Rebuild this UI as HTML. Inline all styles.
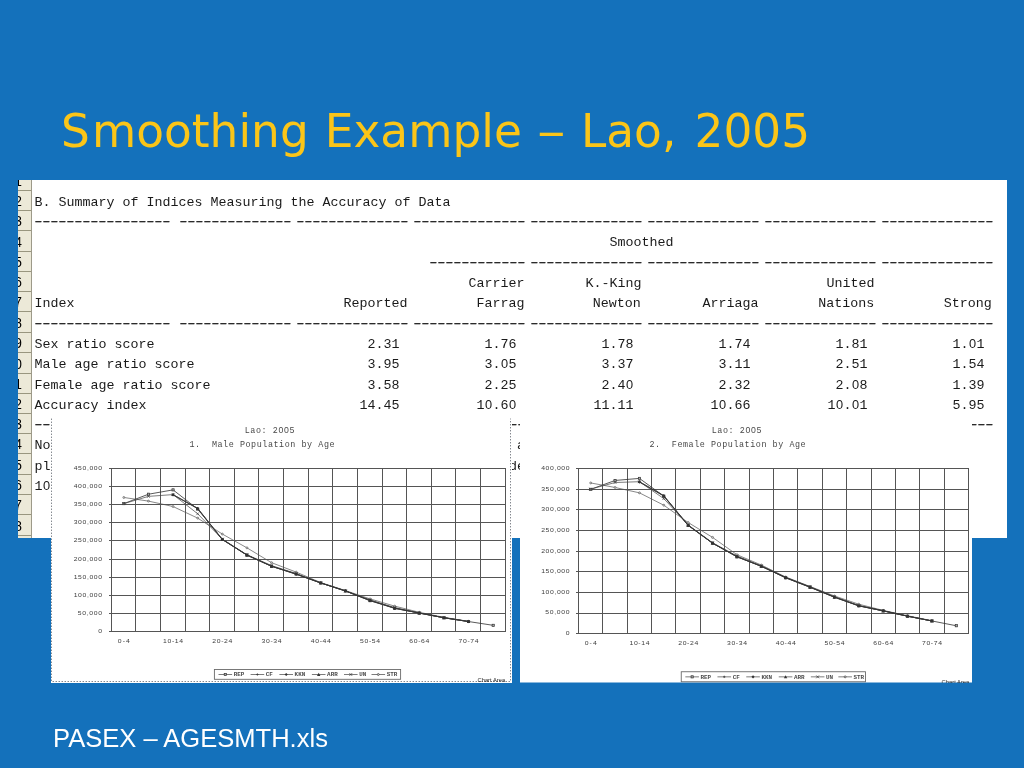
<!DOCTYPE html>
<html lang="en">
<head>
<meta charset="utf-8">
<title>Smoothing Example – Lao, 2005</title>
<style>
html,body{margin:0;padding:0}
body{width:1024px;height:768px;overflow:hidden;background:#1471bb;position:relative;font-family:"Liberation Sans",sans-serif}
#title{position:absolute;left:60.9px;top:104.6px;margin:0;font:normal 45.4px/54px "DejaVu Sans","Liberation Sans",sans-serif;word-spacing:1.53px;letter-spacing:0.04px;color:#fbc518;white-space:nowrap}
#title .w{letter-spacing:2.2px}
#title .e{display:inline-block;margin:0 2.2px 0 2.0px;transform:scaleX(1.26)}
#foot{position:absolute;left:53px;top:722.7px;margin:0;font:normal 25.55px/30px "Liberation Sans",sans-serif;color:#fff;white-space:nowrap;transform:scaleY(1.035);transform-origin:0 24px}
#sheet{position:absolute;left:18px;top:180px;width:989px;height:358px;background:#fff;overflow:hidden}
#hdr{position:absolute;left:0;top:0;width:14px;height:100%;background:#ece9d8;border-right:1px solid #9d9a89;box-sizing:border-box;overflow:hidden}
.hc{position:absolute;left:0;width:14px;border-top:1px solid #99967f;box-sizing:border-box;font:13.33px/16px "Liberation Sans",sans-serif;color:#000}
.hc span{position:absolute;right:10.2px;bottom:0.2px;white-space:nowrap;transform:scaleY(1.15);transform-origin:0 12.7px}
.t{position:absolute;height:20.325px;font:13.33px/20.325px "Liberation Mono",monospace;color:#1a1a1a;white-space:pre;margin-top:2.75px}
.d{letter-spacing:-3px;transform:scaleX(1.6);transform-origin:0 0;margin-left:-3.5px;margin-top:1.8px;-webkit-text-stroke:0.15px #1a1a1a;color:#1a1a1a}
.z{font-family:"Liberation Sans",sans-serif;font-size:12.8px;line-height:0;letter-spacing:0.88px;position:relative;left:0.45px}
.chart{position:absolute;display:block}
.chart text{font-family:"Liberation Mono",monospace}
.chart .ax{font-family:"Liberation Sans",sans-serif;font-size:5.6px;fill:#3c3c3c}
.ti{font-size:8.4px;fill:#484848}
.chart .sz{font-family:"Liberation Sans",sans-serif;font-size:8.7px}
.lg{font-size:5.9px;fill:#4a4a4a;font-weight:bold}
.chart .ca{font-family:"Liberation Sans",sans-serif;font-size:5.8px;fill:#1c1c1c}
</style>
</head>
<body>
<h1 id="title"><span class="w">S</span>moothing Example <span class="e">–</span> Lao<span class="w">,</span> 2005</h1>
<div id="sheet">
<div id="hdr"><div class="hc" style="top:-10px;height:20px"><span>1</span></div><div class="hc" style="top:10px;height:20px"><span>2</span></div><div class="hc" style="top:30px;height:20px"><span>3</span></div><div class="hc" style="top:50px;height:21px"><span>4</span></div><div class="hc" style="top:71px;height:20px"><span>5</span></div><div class="hc" style="top:91px;height:20px"><span>6</span></div><div class="hc" style="top:111px;height:20px"><span>7</span></div><div class="hc" style="top:131px;height:21px"><span>8</span></div><div class="hc" style="top:152px;height:20px"><span>9</span></div><div class="hc" style="top:172px;height:21px"><span>10</span></div><div class="hc" style="top:193px;height:20px"><span>11</span></div><div class="hc" style="top:213px;height:20px"><span>12</span></div><div class="hc" style="top:233px;height:20px"><span>13</span></div><div class="hc" style="top:253px;height:20px"><span>14</span></div><div class="hc" style="top:273px;height:21px"><span>15</span></div><div class="hc" style="top:294px;height:20px"><span>16</span></div><div class="hc" style="top:314px;height:20px"><span>17</span></div><div class="hc" style="top:334px;height:21px"><span>18</span></div><div class="hc" style="top:355px;height:21px"><span>19</span></div></div>
<span class="t " style="left:16.50px;top:10.10px">B. Summary of Indices Measuring the Accuracy of Data</span><span class="t d" style="left:17.00px;top:30.40px">-----------------</span><span class="t d" style="left:162.00px;top:30.40px">--------------</span><span class="t d" style="left:279.00px;top:30.40px">--------------</span><span class="t d" style="left:396.00px;top:30.40px">--------------</span><span class="t d" style="left:513.00px;top:30.40px">--------------</span><span class="t d" style="left:630.00px;top:30.40px">--------------</span><span class="t d" style="left:747.00px;top:30.40px">--------------</span><span class="t d" style="left:864.00px;top:30.40px">--------------</span><span class="t " style="left:591.50px;top:50.70px">Smoothed</span><span class="t d" style="left:412.00px;top:71.00px">------------</span><span class="t d" style="left:513.00px;top:71.00px">--------------</span><span class="t d" style="left:630.00px;top:71.00px">--------------</span><span class="t d" style="left:747.00px;top:71.00px">--------------</span><span class="t d" style="left:864.00px;top:71.00px">--------------</span><span class="t " style="left:450.50px;top:91.30px">Carrier</span><span class="t " style="left:567.50px;top:91.30px">K.-King</span><span class="t " style="left:808.50px;top:91.30px">United</span><span class="t " style="left:16.50px;top:111.60px">Index</span><span class="t " style="left:325.50px;top:111.60px">Reported</span><span class="t " style="left:458.50px;top:111.60px">Farrag</span><span class="t " style="left:574.80px;top:111.60px">Newton</span><span class="t " style="left:684.50px;top:111.60px">Arriaga</span><span class="t " style="left:800.20px;top:111.60px">Nations</span><span class="t " style="left:925.70px;top:111.60px">Strong</span><span class="t d" style="left:17.00px;top:131.90px">-----------------</span><span class="t d" style="left:162.00px;top:131.90px">--------------</span><span class="t d" style="left:279.00px;top:131.90px">--------------</span><span class="t d" style="left:396.00px;top:131.90px">--------------</span><span class="t d" style="left:513.00px;top:131.90px">--------------</span><span class="t d" style="left:630.00px;top:131.90px">--------------</span><span class="t d" style="left:747.00px;top:131.90px">--------------</span><span class="t d" style="left:864.00px;top:131.90px">--------------</span><span class="t " style="left:16.50px;top:152.20px">Sex ratio score</span><span class="t " style="left:349.50px;top:152.20px">2.31</span><span class="t " style="left:466.50px;top:152.20px">1.76</span><span class="t " style="left:583.50px;top:152.20px">1.78</span><span class="t " style="left:700.50px;top:152.20px">1.74</span><span class="t " style="left:817.50px;top:152.20px">1.81</span><span class="t " style="left:934.50px;top:152.20px">1.<span class="z">0</span>1</span><span class="t " style="left:16.50px;top:172.50px">Male age ratio score</span><span class="t " style="left:349.50px;top:172.50px">3.95</span><span class="t " style="left:466.50px;top:172.50px">3.<span class="z">0</span>5</span><span class="t " style="left:583.50px;top:172.50px">3.37</span><span class="t " style="left:700.50px;top:172.50px">3.11</span><span class="t " style="left:817.50px;top:172.50px">2.51</span><span class="t " style="left:934.50px;top:172.50px">1.54</span><span class="t " style="left:16.50px;top:192.80px">Female age ratio score</span><span class="t " style="left:349.50px;top:192.80px">3.58</span><span class="t " style="left:466.50px;top:192.80px">2.25</span><span class="t " style="left:583.50px;top:192.80px">2.4<span class="z">0</span></span><span class="t " style="left:700.50px;top:192.80px">2.32</span><span class="t " style="left:817.50px;top:192.80px">2.<span class="z">0</span>8</span><span class="t " style="left:934.50px;top:192.80px">1.39</span><span class="t " style="left:16.50px;top:213.10px">Accuracy index</span><span class="t " style="left:341.50px;top:213.10px">14.45</span><span class="t " style="left:458.50px;top:213.10px">1<span class="z">0</span>.6<span class="z">0</span></span><span class="t " style="left:575.50px;top:213.10px">11.11</span><span class="t " style="left:692.50px;top:213.10px">1<span class="z">0</span>.66</span><span class="t " style="left:809.50px;top:213.10px">1<span class="z">0</span>.<span class="z">0</span>1</span><span class="t " style="left:934.50px;top:213.10px">5.95</span><span class="t d" style="left:17.00px;top:233.40px">-----------------</span><span class="t d" style="left:162.00px;top:233.40px">--------------</span><span class="t d" style="left:279.00px;top:233.40px">--------------</span><span class="t d" style="left:396.00px;top:233.40px">--------------</span><span class="t d" style="left:513.00px;top:233.40px">--------------</span><span class="t d" style="left:630.00px;top:233.40px">--------------</span><span class="t d" style="left:747.00px;top:233.40px">--------------</span><span class="t d" style="left:864.00px;top:233.40px">--------------</span><span class="t " style="left:16.50px;top:253.70px">No</span><span class="t " style="left:499.00px;top:253.70px">a</span><span class="t " style="left:16.50px;top:274.00px">pl</span><span class="t " style="left:491.00px;top:274.00px">de</span><span class="t " style="left:16.50px;top:294.30px">1<span class="z">0</span></span>
</div>
<svg id="c1" class="chart" style="left:51px;top:418px" width="461" height="265" viewBox="51 418 461 265">
<rect x="51" y="418" width="461" height="265" fill="#fff"/>
<path d="M51.5 418.6V681.5H510.5V418.6" fill="none" stroke="#666c74" stroke-width="0.9" stroke-dasharray="1.3 1.7"/>
<path d="M111.5 468.0V632.0M135.5 468.0V632.0M160.5 468.0V632.0M185.5 468.0V632.0M209.5 468.0V632.0M234.5 468.0V632.0M258.5 468.0V632.0M283.5 468.0V632.0M308.5 468.0V632.0M332.5 468.0V632.0M357.5 468.0V632.0M382.5 468.0V632.0M406.5 468.0V632.0M431.5 468.0V632.0M455.5 468.0V632.0M480.5 468.0V632.0M505.5 468.0V632.0M109.0 468.5H506.0M109.0 486.5H506.0M109.0 504.5H506.0M109.0 522.5H506.0M109.0 540.5H506.0M109.0 559.5H506.0M109.0 577.5H506.0M109.0 595.5H506.0M109.0 613.5H506.0M109.0 631.5H506.0" fill="none" stroke="#555" stroke-width="1" shape-rendering="crispEdges"/>
<text class="ax" transform="translate(102 470.00) scale(1.22 1)" text-anchor="end" textLength="23.24" lengthAdjust="spacing">450,000</text>
<text class="ax" transform="translate(102 488.11) scale(1.22 1)" text-anchor="end" textLength="23.24" lengthAdjust="spacing">400,000</text>
<text class="ax" transform="translate(102 506.22) scale(1.22 1)" text-anchor="end" textLength="23.24" lengthAdjust="spacing">350,000</text>
<text class="ax" transform="translate(102 524.33) scale(1.22 1)" text-anchor="end" textLength="23.24" lengthAdjust="spacing">300,000</text>
<text class="ax" transform="translate(102 542.44) scale(1.22 1)" text-anchor="end" textLength="23.24" lengthAdjust="spacing">250,000</text>
<text class="ax" transform="translate(102 560.56) scale(1.22 1)" text-anchor="end" textLength="23.24" lengthAdjust="spacing">200,000</text>
<text class="ax" transform="translate(102 578.67) scale(1.22 1)" text-anchor="end" textLength="23.24" lengthAdjust="spacing">150,000</text>
<text class="ax" transform="translate(102 596.78) scale(1.22 1)" text-anchor="end" textLength="23.24" lengthAdjust="spacing">100,000</text>
<text class="ax" transform="translate(102 614.89) scale(1.22 1)" text-anchor="end" textLength="19.92" lengthAdjust="spacing">50,000</text>
<text class="ax" transform="translate(102 633.00) scale(1.22 1)" text-anchor="end" textLength="3.32" lengthAdjust="spacing">0</text>
<text class="ax" transform="translate(123.81 643) scale(1.22 1)" text-anchor="middle" textLength="9.84" lengthAdjust="spacing">0-4</text>
<text class="ax" transform="translate(173.06 643) scale(1.22 1)" text-anchor="middle" textLength="16.39" lengthAdjust="spacing">10-14</text>
<text class="ax" transform="translate(222.31 643) scale(1.22 1)" text-anchor="middle" textLength="16.39" lengthAdjust="spacing">20-24</text>
<text class="ax" transform="translate(271.56 643) scale(1.22 1)" text-anchor="middle" textLength="16.39" lengthAdjust="spacing">30-34</text>
<text class="ax" transform="translate(320.81 643) scale(1.22 1)" text-anchor="middle" textLength="16.39" lengthAdjust="spacing">40-44</text>
<text class="ax" transform="translate(370.06 643) scale(1.22 1)" text-anchor="middle" textLength="16.39" lengthAdjust="spacing">50-54</text>
<text class="ax" transform="translate(419.31 643) scale(1.22 1)" text-anchor="middle" textLength="16.39" lengthAdjust="spacing">60-64</text>
<text class="ax" transform="translate(468.56 643) scale(1.22 1)" text-anchor="middle" textLength="16.39" lengthAdjust="spacing">70-74</text>
<text class="ti" x="244.68 250.28 255.88 261.48 267.08 272.68 278.38 283.98 289.48" y="433.10" xml:space="preserve">Lao: 2<tspan class="sz">00</tspan>5</text>
<text class="ti" x="189.48 195.08 200.68 206.28 211.88 217.48 223.08 228.68 234.28 239.88 245.48 251.08 256.68 262.28 267.88 273.48 279.08 284.68 290.28 295.88 301.48 307.08 312.68 318.28 323.88 329.48" y="447.20" xml:space="preserve">1.  Male Population by Age</text>
<path d="M123.81 503.64L148.44 494.22L173.06 489.87L197.69 509.07L222.31 539.50L246.94 555.07L271.56 566.30L296.19 573.91L320.81 582.96L345.44 590.93L370.06 600.71L394.69 607.96L419.31 613.03L443.94 617.74L468.56 621.54L493.19 625.34" fill="none" stroke="#303030" stroke-width="0.8" stroke-linejoin="round"/>
<rect x="122.71" y="502.54" width="2.2" height="2.2" fill="#aaa" stroke="#303030" stroke-width="0.7"/>
<rect x="147.34" y="493.12" width="2.2" height="2.2" fill="#aaa" stroke="#303030" stroke-width="0.7"/>
<rect x="171.96" y="488.77" width="2.2" height="2.2" fill="#aaa" stroke="#303030" stroke-width="0.7"/>
<rect x="196.59" y="507.97" width="2.2" height="2.2" fill="#aaa" stroke="#303030" stroke-width="0.7"/>
<rect x="221.21" y="538.40" width="2.2" height="2.2" fill="#aaa" stroke="#303030" stroke-width="0.7"/>
<rect x="245.84" y="553.97" width="2.2" height="2.2" fill="#aaa" stroke="#303030" stroke-width="0.7"/>
<rect x="270.46" y="565.20" width="2.2" height="2.2" fill="#aaa" stroke="#303030" stroke-width="0.7"/>
<rect x="295.09" y="572.81" width="2.2" height="2.2" fill="#aaa" stroke="#303030" stroke-width="0.7"/>
<rect x="319.71" y="581.86" width="2.2" height="2.2" fill="#aaa" stroke="#303030" stroke-width="0.7"/>
<rect x="344.34" y="589.83" width="2.2" height="2.2" fill="#aaa" stroke="#303030" stroke-width="0.7"/>
<rect x="368.96" y="599.61" width="2.2" height="2.2" fill="#aaa" stroke="#303030" stroke-width="0.7"/>
<rect x="393.59" y="606.86" width="2.2" height="2.2" fill="#aaa" stroke="#303030" stroke-width="0.7"/>
<rect x="418.21" y="611.93" width="2.2" height="2.2" fill="#aaa" stroke="#303030" stroke-width="0.7"/>
<rect x="442.84" y="616.64" width="2.2" height="2.2" fill="#aaa" stroke="#303030" stroke-width="0.7"/>
<rect x="467.46" y="620.44" width="2.2" height="2.2" fill="#aaa" stroke="#303030" stroke-width="0.7"/>
<rect x="492.09" y="624.24" width="2.2" height="2.2" fill="#aaa" stroke="#303030" stroke-width="0.7"/>
<path d="M123.81 497.48L148.44 501.10L173.06 506.53L197.69 518.12L222.31 534.06L246.94 547.83L271.56 562.68L296.19 572.10L320.81 582.60L345.44 590.57L370.06 598.90L394.69 606.14L419.31 612.30L443.94 617.37L468.56 621.36" fill="none" stroke="#555" stroke-width="0.7" stroke-linejoin="round"/>
<circle cx="123.81" cy="497.48" r="1.0" fill="#ccc" stroke="#555" stroke-width="0.6"/>
<circle cx="148.44" cy="501.10" r="1.0" fill="#ccc" stroke="#555" stroke-width="0.6"/>
<circle cx="173.06" cy="506.53" r="1.0" fill="#ccc" stroke="#555" stroke-width="0.6"/>
<circle cx="197.69" cy="518.12" r="1.0" fill="#ccc" stroke="#555" stroke-width="0.6"/>
<circle cx="222.31" cy="534.06" r="1.0" fill="#ccc" stroke="#555" stroke-width="0.6"/>
<circle cx="246.94" cy="547.83" r="1.0" fill="#ccc" stroke="#555" stroke-width="0.6"/>
<circle cx="271.56" cy="562.68" r="1.0" fill="#ccc" stroke="#555" stroke-width="0.6"/>
<circle cx="296.19" cy="572.10" r="1.0" fill="#ccc" stroke="#555" stroke-width="0.6"/>
<circle cx="320.81" cy="582.60" r="1.0" fill="#ccc" stroke="#555" stroke-width="0.6"/>
<circle cx="345.44" cy="590.57" r="1.0" fill="#ccc" stroke="#555" stroke-width="0.6"/>
<circle cx="370.06" cy="598.90" r="1.0" fill="#ccc" stroke="#555" stroke-width="0.6"/>
<circle cx="394.69" cy="606.14" r="1.0" fill="#ccc" stroke="#555" stroke-width="0.6"/>
<circle cx="419.31" cy="612.30" r="1.0" fill="#ccc" stroke="#555" stroke-width="0.6"/>
<circle cx="443.94" cy="617.37" r="1.0" fill="#ccc" stroke="#555" stroke-width="0.6"/>
<circle cx="468.56" cy="621.36" r="1.0" fill="#ccc" stroke="#555" stroke-width="0.6"/>
<path d="M123.81 503.64L148.44 496.39L173.06 494.58L197.69 513.78L222.31 539.13L246.94 554.71L271.56 565.58L296.19 573.54L320.81 582.96L345.44 590.93L370.06 599.99L394.69 607.59L419.31 613.03L443.94 617.74L468.56 621.54" fill="none" stroke="#444" stroke-width="0.7" stroke-linejoin="round"/>
<path d="M122.41 502.24l2.8 2.8M122.41 505.04l2.8-2.8" stroke="#444" stroke-width="0.7"/>
<path d="M147.04 494.99l2.8 2.8M147.04 497.79l2.8-2.8" stroke="#444" stroke-width="0.7"/>
<path d="M171.66 493.18l2.8 2.8M171.66 495.98l2.8-2.8" stroke="#444" stroke-width="0.7"/>
<path d="M196.29 512.38l2.8 2.8M196.29 515.18l2.8-2.8" stroke="#444" stroke-width="0.7"/>
<path d="M220.91 537.73l2.8 2.8M220.91 540.53l2.8-2.8" stroke="#444" stroke-width="0.7"/>
<path d="M245.54 553.31l2.8 2.8M245.54 556.11l2.8-2.8" stroke="#444" stroke-width="0.7"/>
<path d="M270.16 564.18l2.8 2.8M270.16 566.98l2.8-2.8" stroke="#444" stroke-width="0.7"/>
<path d="M294.79 572.14l2.8 2.8M294.79 574.94l2.8-2.8" stroke="#444" stroke-width="0.7"/>
<path d="M319.41 581.56l2.8 2.8M319.41 584.36l2.8-2.8" stroke="#444" stroke-width="0.7"/>
<path d="M344.04 589.53l2.8 2.8M344.04 592.33l2.8-2.8" stroke="#444" stroke-width="0.7"/>
<path d="M368.66 598.59l2.8 2.8M368.66 601.39l2.8-2.8" stroke="#444" stroke-width="0.7"/>
<path d="M393.29 606.19l2.8 2.8M393.29 608.99l2.8-2.8" stroke="#444" stroke-width="0.7"/>
<path d="M417.91 611.63l2.8 2.8M417.91 614.43l2.8-2.8" stroke="#444" stroke-width="0.7"/>
<path d="M442.54 616.34l2.8 2.8M442.54 619.14l2.8-2.8" stroke="#444" stroke-width="0.7"/>
<path d="M467.16 620.14l2.8 2.8M467.16 622.94l2.8-2.8" stroke="#444" stroke-width="0.7"/>
<path d="M173.06 494.58L197.69 508.34L222.31 539.13L246.94 555.07L271.56 565.94L296.19 574.27L320.81 582.96L345.44 590.93L370.06 599.99L394.69 608.32L419.31 613.03L443.94 617.74L468.56 621.54" fill="none" stroke="#444" stroke-width="0.7" stroke-linejoin="round"/>
<path d="M171.86 494.58h2.4M173.06 493.38v2.4" stroke="#444" stroke-width="0.7"/>
<path d="M196.49 508.34h2.4M197.69 507.14v2.4" stroke="#444" stroke-width="0.7"/>
<path d="M221.11 539.13h2.4M222.31 537.93v2.4" stroke="#444" stroke-width="0.7"/>
<path d="M245.74 555.07h2.4M246.94 553.87v2.4" stroke="#444" stroke-width="0.7"/>
<path d="M270.36 565.94h2.4M271.56 564.74v2.4" stroke="#444" stroke-width="0.7"/>
<path d="M294.99 574.27h2.4M296.19 573.07v2.4" stroke="#444" stroke-width="0.7"/>
<path d="M319.61 582.96h2.4M320.81 581.76v2.4" stroke="#444" stroke-width="0.7"/>
<path d="M344.24 590.93h2.4M345.44 589.73v2.4" stroke="#444" stroke-width="0.7"/>
<path d="M368.86 599.99h2.4M370.06 598.79v2.4" stroke="#444" stroke-width="0.7"/>
<path d="M393.49 608.32h2.4M394.69 607.12v2.4" stroke="#444" stroke-width="0.7"/>
<path d="M418.11 613.03h2.4M419.31 611.83v2.4" stroke="#444" stroke-width="0.7"/>
<path d="M442.74 617.74h2.4M443.94 616.54v2.4" stroke="#444" stroke-width="0.7"/>
<path d="M467.36 621.54h2.4M468.56 620.34v2.4" stroke="#444" stroke-width="0.7"/>
<path d="M173.06 494.94L197.69 508.71L222.31 539.50L246.94 555.07L271.56 566.30L296.19 574.27L320.81 582.96L345.44 590.93L370.06 600.35L394.69 608.32L419.31 613.03L443.94 617.74L468.56 621.54" fill="none" stroke="#333" stroke-width="0.7" stroke-linejoin="round"/>
<path d="M173.06 493.34l1.6 1.6l-1.6 1.6l-1.6-1.6z" fill="#333"/>
<path d="M197.69 507.11l1.6 1.6l-1.6 1.6l-1.6-1.6z" fill="#333"/>
<path d="M222.31 537.90l1.6 1.6l-1.6 1.6l-1.6-1.6z" fill="#333"/>
<path d="M246.94 553.47l1.6 1.6l-1.6 1.6l-1.6-1.6z" fill="#333"/>
<path d="M271.56 564.70l1.6 1.6l-1.6 1.6l-1.6-1.6z" fill="#333"/>
<path d="M296.19 572.67l1.6 1.6l-1.6 1.6l-1.6-1.6z" fill="#333"/>
<path d="M320.81 581.36l1.6 1.6l-1.6 1.6l-1.6-1.6z" fill="#333"/>
<path d="M345.44 589.33l1.6 1.6l-1.6 1.6l-1.6-1.6z" fill="#333"/>
<path d="M370.06 598.75l1.6 1.6l-1.6 1.6l-1.6-1.6z" fill="#333"/>
<path d="M394.69 606.72l1.6 1.6l-1.6 1.6l-1.6-1.6z" fill="#333"/>
<path d="M419.31 611.43l1.6 1.6l-1.6 1.6l-1.6-1.6z" fill="#333"/>
<path d="M443.94 616.14l1.6 1.6l-1.6 1.6l-1.6-1.6z" fill="#333"/>
<path d="M468.56 619.94l1.6 1.6l-1.6 1.6l-1.6-1.6z" fill="#333"/>
<path d="M173.06 494.58L197.69 508.34L222.31 539.50L246.94 555.07L271.56 566.30L296.19 573.91L320.81 582.96L345.44 590.93L370.06 600.71L394.69 608.32L419.31 613.03L443.94 617.74L468.56 621.54" fill="none" stroke="#333" stroke-width="0.7" stroke-linejoin="round"/>
<path d="M173.06 492.88l1.7 3.1h-3.4z" fill="#333"/>
<path d="M197.69 506.64l1.7 3.1h-3.4z" fill="#333"/>
<path d="M222.31 537.80l1.7 3.1h-3.4z" fill="#333"/>
<path d="M246.94 553.37l1.7 3.1h-3.4z" fill="#333"/>
<path d="M271.56 564.60l1.7 3.1h-3.4z" fill="#333"/>
<path d="M296.19 572.21l1.7 3.1h-3.4z" fill="#333"/>
<path d="M320.81 581.26l1.7 3.1h-3.4z" fill="#333"/>
<path d="M345.44 589.23l1.7 3.1h-3.4z" fill="#333"/>
<path d="M370.06 599.01l1.7 3.1h-3.4z" fill="#333"/>
<path d="M394.69 606.62l1.7 3.1h-3.4z" fill="#333"/>
<path d="M419.31 611.33l1.7 3.1h-3.4z" fill="#333"/>
<path d="M443.94 616.04l1.7 3.1h-3.4z" fill="#333"/>
<path d="M468.56 619.84l1.7 3.1h-3.4z" fill="#333"/>
<text class="ca" x="505.2" y="681.5" text-anchor="end">Chart Area</text>
<rect x="214.4" y="669.5" width="186.20000000000002" height="9.799999999999955" fill="#fff" stroke="#6a6a6a" stroke-width="0.9"/>
<path d="M218.50 674.50h13.6" stroke="#444" stroke-width="0.7"/>
<rect x="224.20" y="673.40" width="2.2" height="2.2" fill="#aaa" stroke="#333" stroke-width="0.7"/>
<text class="lg" x="233.70" y="676.40">REP</text>
<path d="M250.60 674.50h13.6" stroke="#444" stroke-width="0.7"/>
<path d="M256.20 674.50h2.4M257.40 673.30v2.4" stroke="#333" stroke-width="0.7"/>
<text class="lg" x="265.80" y="676.40">CF</text>
<path d="M279.40 674.50h13.6" stroke="#444" stroke-width="0.7"/>
<path d="M286.20 672.90l1.6 1.6l-1.6 1.6l-1.6-1.6z" fill="#333"/>
<text class="lg" x="294.60" y="676.40">KKN</text>
<path d="M311.90 674.50h13.6" stroke="#444" stroke-width="0.7"/>
<path d="M318.70 672.80l1.7 3.1h-3.4z" fill="#333"/>
<text class="lg" x="327.10" y="676.40">ARR</text>
<path d="M344.00 674.50h13.6" stroke="#444" stroke-width="0.7"/>
<path d="M349.40 673.10l2.8 2.8M349.40 675.90l2.8-2.8" stroke="#333" stroke-width="0.7"/>
<text class="lg" x="359.20" y="676.40">UN</text>
<path d="M371.50 674.50h13.6" stroke="#444" stroke-width="0.7"/>
<circle cx="378.30" cy="674.50" r="1.0" fill="#ccc" stroke="#333" stroke-width="0.6"/>
<text class="lg" x="386.70" y="676.40">STR</text>
</svg>
<svg id="c2" class="chart" style="left:520px;top:418px" width="452" height="265" viewBox="520 418 452 265">
<rect x="520" y="418" width="452" height="264.5" fill="#fff"/>
<path d="M578.5 468.0V634.0M602.5 468.0V634.0M627.5 468.0V634.0M651.5 468.0V634.0M675.5 468.0V634.0M700.5 468.0V634.0M724.5 468.0V634.0M749.5 468.0V634.0M773.5 468.0V634.0M797.5 468.0V634.0M822.5 468.0V634.0M846.5 468.0V634.0M871.5 468.0V634.0M895.5 468.0V634.0M919.5 468.0V634.0M944.5 468.0V634.0M968.5 468.0V634.0M576.0 468.5H969.0M576.0 489.5H969.0M576.0 509.5H969.0M576.0 530.5H969.0M576.0 551.5H969.0M576.0 571.5H969.0M576.0 592.5H969.0M576.0 613.5H969.0M576.0 633.5H969.0" fill="none" stroke="#555" stroke-width="1" shape-rendering="crispEdges"/>
<text class="ax" transform="translate(569.5 470.00) scale(1.22 1)" text-anchor="end" textLength="23.24" lengthAdjust="spacing">400,000</text>
<text class="ax" transform="translate(569.5 490.62) scale(1.22 1)" text-anchor="end" textLength="23.24" lengthAdjust="spacing">350,000</text>
<text class="ax" transform="translate(569.5 511.25) scale(1.22 1)" text-anchor="end" textLength="23.24" lengthAdjust="spacing">300,000</text>
<text class="ax" transform="translate(569.5 531.88) scale(1.22 1)" text-anchor="end" textLength="23.24" lengthAdjust="spacing">250,000</text>
<text class="ax" transform="translate(569.5 552.50) scale(1.22 1)" text-anchor="end" textLength="23.24" lengthAdjust="spacing">200,000</text>
<text class="ax" transform="translate(569.5 573.12) scale(1.22 1)" text-anchor="end" textLength="23.24" lengthAdjust="spacing">150,000</text>
<text class="ax" transform="translate(569.5 593.75) scale(1.22 1)" text-anchor="end" textLength="23.24" lengthAdjust="spacing">100,000</text>
<text class="ax" transform="translate(569.5 614.38) scale(1.22 1)" text-anchor="end" textLength="19.92" lengthAdjust="spacing">50,000</text>
<text class="ax" transform="translate(569.5 635.00) scale(1.22 1)" text-anchor="end" textLength="3.32" lengthAdjust="spacing">0</text>
<text class="ax" transform="translate(590.69 645) scale(1.22 1)" text-anchor="middle" textLength="9.84" lengthAdjust="spacing">0-4</text>
<text class="ax" transform="translate(639.44 645) scale(1.22 1)" text-anchor="middle" textLength="16.39" lengthAdjust="spacing">10-14</text>
<text class="ax" transform="translate(688.19 645) scale(1.22 1)" text-anchor="middle" textLength="16.39" lengthAdjust="spacing">20-24</text>
<text class="ax" transform="translate(736.94 645) scale(1.22 1)" text-anchor="middle" textLength="16.39" lengthAdjust="spacing">30-34</text>
<text class="ax" transform="translate(785.69 645) scale(1.22 1)" text-anchor="middle" textLength="16.39" lengthAdjust="spacing">40-44</text>
<text class="ax" transform="translate(834.44 645) scale(1.22 1)" text-anchor="middle" textLength="16.39" lengthAdjust="spacing">50-54</text>
<text class="ax" transform="translate(883.19 645) scale(1.22 1)" text-anchor="middle" textLength="16.39" lengthAdjust="spacing">60-64</text>
<text class="ax" transform="translate(931.94 645) scale(1.22 1)" text-anchor="middle" textLength="16.39" lengthAdjust="spacing">70-74</text>
<text class="ti" x="711.68 717.28 722.88 728.48 734.08 739.68 745.38 750.98 756.48" y="433.10" xml:space="preserve">Lao: 2<tspan class="sz">00</tspan>5</text>
<text class="ti" x="649.38 654.98 660.58 666.18 671.78 677.38 682.98 688.58 694.18 699.78 705.38 710.98 716.58 722.18 727.78 733.38 738.98 744.58 750.18 755.78 761.38 766.98 772.58 778.18 783.78 789.38 794.98 800.58" y="447.20" xml:space="preserve">2.  Female Population by Age</text>
<path d="M590.69 489.33L615.06 480.46L639.44 478.40L663.81 496.14L688.19 525.42L712.56 543.16L736.94 556.77L761.31 566.26L785.69 577.61L810.06 587.09L834.44 597.20L858.81 605.66L883.19 610.94L907.56 616.17L931.94 620.96L956.31 625.75" fill="none" stroke="#303030" stroke-width="0.8" stroke-linejoin="round"/>
<rect x="589.59" y="488.23" width="2.2" height="2.2" fill="#aaa" stroke="#303030" stroke-width="0.7"/>
<rect x="613.96" y="479.36" width="2.2" height="2.2" fill="#aaa" stroke="#303030" stroke-width="0.7"/>
<rect x="638.34" y="477.30" width="2.2" height="2.2" fill="#aaa" stroke="#303030" stroke-width="0.7"/>
<rect x="662.71" y="495.04" width="2.2" height="2.2" fill="#aaa" stroke="#303030" stroke-width="0.7"/>
<rect x="687.09" y="524.32" width="2.2" height="2.2" fill="#aaa" stroke="#303030" stroke-width="0.7"/>
<rect x="711.46" y="542.06" width="2.2" height="2.2" fill="#aaa" stroke="#303030" stroke-width="0.7"/>
<rect x="735.84" y="555.67" width="2.2" height="2.2" fill="#aaa" stroke="#303030" stroke-width="0.7"/>
<rect x="760.21" y="565.16" width="2.2" height="2.2" fill="#aaa" stroke="#303030" stroke-width="0.7"/>
<rect x="784.59" y="576.51" width="2.2" height="2.2" fill="#aaa" stroke="#303030" stroke-width="0.7"/>
<rect x="808.96" y="585.99" width="2.2" height="2.2" fill="#aaa" stroke="#303030" stroke-width="0.7"/>
<rect x="833.34" y="596.10" width="2.2" height="2.2" fill="#aaa" stroke="#303030" stroke-width="0.7"/>
<rect x="857.71" y="604.56" width="2.2" height="2.2" fill="#aaa" stroke="#303030" stroke-width="0.7"/>
<rect x="882.09" y="609.84" width="2.2" height="2.2" fill="#aaa" stroke="#303030" stroke-width="0.7"/>
<rect x="906.46" y="615.07" width="2.2" height="2.2" fill="#aaa" stroke="#303030" stroke-width="0.7"/>
<rect x="930.84" y="619.86" width="2.2" height="2.2" fill="#aaa" stroke="#303030" stroke-width="0.7"/>
<rect x="955.21" y="624.64" width="2.2" height="2.2" fill="#aaa" stroke="#303030" stroke-width="0.7"/>
<path d="M590.69 482.94L615.06 487.48L639.44 492.84L663.81 505.21L688.19 522.54L712.56 537.39L736.94 554.71L761.31 565.02L785.69 576.99L810.06 586.48L834.44 595.96L858.81 604.21L883.19 610.40L907.56 615.76L931.94 620.71" fill="none" stroke="#555" stroke-width="0.7" stroke-linejoin="round"/>
<circle cx="590.69" cy="482.94" r="1.0" fill="#ccc" stroke="#555" stroke-width="0.6"/>
<circle cx="615.06" cy="487.48" r="1.0" fill="#ccc" stroke="#555" stroke-width="0.6"/>
<circle cx="639.44" cy="492.84" r="1.0" fill="#ccc" stroke="#555" stroke-width="0.6"/>
<circle cx="663.81" cy="505.21" r="1.0" fill="#ccc" stroke="#555" stroke-width="0.6"/>
<circle cx="688.19" cy="522.54" r="1.0" fill="#ccc" stroke="#555" stroke-width="0.6"/>
<circle cx="712.56" cy="537.39" r="1.0" fill="#ccc" stroke="#555" stroke-width="0.6"/>
<circle cx="736.94" cy="554.71" r="1.0" fill="#ccc" stroke="#555" stroke-width="0.6"/>
<circle cx="761.31" cy="565.02" r="1.0" fill="#ccc" stroke="#555" stroke-width="0.6"/>
<circle cx="785.69" cy="576.99" r="1.0" fill="#ccc" stroke="#555" stroke-width="0.6"/>
<circle cx="810.06" cy="586.48" r="1.0" fill="#ccc" stroke="#555" stroke-width="0.6"/>
<circle cx="834.44" cy="595.96" r="1.0" fill="#ccc" stroke="#555" stroke-width="0.6"/>
<circle cx="858.81" cy="604.21" r="1.0" fill="#ccc" stroke="#555" stroke-width="0.6"/>
<circle cx="883.19" cy="610.40" r="1.0" fill="#ccc" stroke="#555" stroke-width="0.6"/>
<circle cx="907.56" cy="615.76" r="1.0" fill="#ccc" stroke="#555" stroke-width="0.6"/>
<circle cx="931.94" cy="620.71" r="1.0" fill="#ccc" stroke="#555" stroke-width="0.6"/>
<path d="M590.69 489.12L615.06 482.52L639.44 481.70L663.81 498.61L688.19 525.01L712.56 542.75L736.94 555.95L761.31 565.85L785.69 577.40L810.06 586.89L834.44 596.79L858.81 605.45L883.19 610.81L907.56 616.17L931.94 620.96" fill="none" stroke="#444" stroke-width="0.7" stroke-linejoin="round"/>
<path d="M589.29 487.73l2.8 2.8M589.29 490.52l2.8-2.8" stroke="#444" stroke-width="0.7"/>
<path d="M613.66 481.12l2.8 2.8M613.66 483.92l2.8-2.8" stroke="#444" stroke-width="0.7"/>
<path d="M638.04 480.30l2.8 2.8M638.04 483.10l2.8-2.8" stroke="#444" stroke-width="0.7"/>
<path d="M662.41 497.21l2.8 2.8M662.41 500.01l2.8-2.8" stroke="#444" stroke-width="0.7"/>
<path d="M686.79 523.61l2.8 2.8M686.79 526.41l2.8-2.8" stroke="#444" stroke-width="0.7"/>
<path d="M711.16 541.35l2.8 2.8M711.16 544.15l2.8-2.8" stroke="#444" stroke-width="0.7"/>
<path d="M735.54 554.55l2.8 2.8M735.54 557.35l2.8-2.8" stroke="#444" stroke-width="0.7"/>
<path d="M759.91 564.45l2.8 2.8M759.91 567.25l2.8-2.8" stroke="#444" stroke-width="0.7"/>
<path d="M784.29 576.00l2.8 2.8M784.29 578.80l2.8-2.8" stroke="#444" stroke-width="0.7"/>
<path d="M808.66 585.49l2.8 2.8M808.66 588.29l2.8-2.8" stroke="#444" stroke-width="0.7"/>
<path d="M833.04 595.39l2.8 2.8M833.04 598.19l2.8-2.8" stroke="#444" stroke-width="0.7"/>
<path d="M857.41 604.05l2.8 2.8M857.41 606.85l2.8-2.8" stroke="#444" stroke-width="0.7"/>
<path d="M881.79 609.41l2.8 2.8M881.79 612.21l2.8-2.8" stroke="#444" stroke-width="0.7"/>
<path d="M906.16 614.77l2.8 2.8M906.16 617.57l2.8-2.8" stroke="#444" stroke-width="0.7"/>
<path d="M930.54 619.56l2.8 2.8M930.54 622.36l2.8-2.8" stroke="#444" stroke-width="0.7"/>
<path d="M639.44 481.70L663.81 495.73L688.19 525.01L712.56 543.16L736.94 556.36L761.31 566.26L785.69 577.40L810.06 586.89L834.44 596.79L858.81 605.86L883.19 610.81L907.56 616.17L931.94 620.96" fill="none" stroke="#444" stroke-width="0.7" stroke-linejoin="round"/>
<path d="M638.24 481.70h2.4M639.44 480.50v2.4" stroke="#444" stroke-width="0.7"/>
<path d="M662.61 495.73h2.4M663.81 494.53v2.4" stroke="#444" stroke-width="0.7"/>
<path d="M686.99 525.01h2.4M688.19 523.81v2.4" stroke="#444" stroke-width="0.7"/>
<path d="M711.36 543.16h2.4M712.56 541.96v2.4" stroke="#444" stroke-width="0.7"/>
<path d="M735.74 556.36h2.4M736.94 555.16v2.4" stroke="#444" stroke-width="0.7"/>
<path d="M760.11 566.26h2.4M761.31 565.06v2.4" stroke="#444" stroke-width="0.7"/>
<path d="M784.49 577.40h2.4M785.69 576.20v2.4" stroke="#444" stroke-width="0.7"/>
<path d="M808.86 586.89h2.4M810.06 585.69v2.4" stroke="#444" stroke-width="0.7"/>
<path d="M833.24 596.79h2.4M834.44 595.59v2.4" stroke="#444" stroke-width="0.7"/>
<path d="M857.61 605.86h2.4M858.81 604.66v2.4" stroke="#444" stroke-width="0.7"/>
<path d="M881.99 610.81h2.4M883.19 609.61v2.4" stroke="#444" stroke-width="0.7"/>
<path d="M906.36 616.17h2.4M907.56 614.97v2.4" stroke="#444" stroke-width="0.7"/>
<path d="M930.74 620.96h2.4M931.94 619.76v2.4" stroke="#444" stroke-width="0.7"/>
<path d="M639.44 482.11L663.81 496.14L688.19 525.42L712.56 543.16L736.94 556.77L761.31 566.26L785.69 577.81L810.06 587.30L834.44 597.20L858.81 605.86L883.19 610.81L907.56 616.17L931.94 620.96" fill="none" stroke="#333" stroke-width="0.7" stroke-linejoin="round"/>
<path d="M639.44 480.51l1.6 1.6l-1.6 1.6l-1.6-1.6z" fill="#333"/>
<path d="M663.81 494.54l1.6 1.6l-1.6 1.6l-1.6-1.6z" fill="#333"/>
<path d="M688.19 523.82l1.6 1.6l-1.6 1.6l-1.6-1.6z" fill="#333"/>
<path d="M712.56 541.56l1.6 1.6l-1.6 1.6l-1.6-1.6z" fill="#333"/>
<path d="M736.94 555.17l1.6 1.6l-1.6 1.6l-1.6-1.6z" fill="#333"/>
<path d="M761.31 564.66l1.6 1.6l-1.6 1.6l-1.6-1.6z" fill="#333"/>
<path d="M785.69 576.21l1.6 1.6l-1.6 1.6l-1.6-1.6z" fill="#333"/>
<path d="M810.06 585.70l1.6 1.6l-1.6 1.6l-1.6-1.6z" fill="#333"/>
<path d="M834.44 595.60l1.6 1.6l-1.6 1.6l-1.6-1.6z" fill="#333"/>
<path d="M858.81 604.26l1.6 1.6l-1.6 1.6l-1.6-1.6z" fill="#333"/>
<path d="M883.19 609.21l1.6 1.6l-1.6 1.6l-1.6-1.6z" fill="#333"/>
<path d="M907.56 614.57l1.6 1.6l-1.6 1.6l-1.6-1.6z" fill="#333"/>
<path d="M931.94 619.36l1.6 1.6l-1.6 1.6l-1.6-1.6z" fill="#333"/>
<path d="M639.44 481.70L663.81 495.73L688.19 525.42L712.56 543.16L736.94 556.77L761.31 566.26L785.69 577.81L810.06 587.30L834.44 597.20L858.81 605.86L883.19 610.81L907.56 616.17L931.94 620.96" fill="none" stroke="#333" stroke-width="0.7" stroke-linejoin="round"/>
<path d="M639.44 480.00l1.7 3.1h-3.4z" fill="#333"/>
<path d="M663.81 494.03l1.7 3.1h-3.4z" fill="#333"/>
<path d="M688.19 523.72l1.7 3.1h-3.4z" fill="#333"/>
<path d="M712.56 541.46l1.7 3.1h-3.4z" fill="#333"/>
<path d="M736.94 555.07l1.7 3.1h-3.4z" fill="#333"/>
<path d="M761.31 564.56l1.7 3.1h-3.4z" fill="#333"/>
<path d="M785.69 576.11l1.7 3.1h-3.4z" fill="#333"/>
<path d="M810.06 585.60l1.7 3.1h-3.4z" fill="#333"/>
<path d="M834.44 595.50l1.7 3.1h-3.4z" fill="#333"/>
<path d="M858.81 604.16l1.7 3.1h-3.4z" fill="#333"/>
<path d="M883.19 609.11l1.7 3.1h-3.4z" fill="#333"/>
<path d="M907.56 614.47l1.7 3.1h-3.4z" fill="#333"/>
<path d="M931.94 619.26l1.7 3.1h-3.4z" fill="#333"/>
<text class="ca" x="969.3" y="684.4" text-anchor="end">Chart Area</text>
<rect x="681.25" y="671.75" width="184.25" height="10.0" fill="#fff" stroke="#6a6a6a" stroke-width="0.9"/>
<path d="M685.35 676.85h13.6" stroke="#444" stroke-width="0.7"/>
<rect x="691.05" y="675.75" width="2.2" height="2.2" fill="#aaa" stroke="#333" stroke-width="0.7"/>
<text class="lg" x="700.55" y="678.75">REP</text>
<path d="M717.45 676.85h13.6" stroke="#444" stroke-width="0.7"/>
<path d="M723.05 676.85h2.4M724.25 675.65v2.4" stroke="#333" stroke-width="0.7"/>
<text class="lg" x="732.65" y="678.75">CF</text>
<path d="M746.25 676.85h13.6" stroke="#444" stroke-width="0.7"/>
<path d="M753.05 675.25l1.6 1.6l-1.6 1.6l-1.6-1.6z" fill="#333"/>
<text class="lg" x="761.45" y="678.75">KKN</text>
<path d="M778.75 676.85h13.6" stroke="#444" stroke-width="0.7"/>
<path d="M785.55 675.15l1.7 3.1h-3.4z" fill="#333"/>
<text class="lg" x="793.95" y="678.75">ARR</text>
<path d="M810.85 676.85h13.6" stroke="#444" stroke-width="0.7"/>
<path d="M816.25 675.45l2.8 2.8M816.25 678.25l2.8-2.8" stroke="#333" stroke-width="0.7"/>
<text class="lg" x="826.05" y="678.75">UN</text>
<path d="M838.35 676.85h13.6" stroke="#444" stroke-width="0.7"/>
<circle cx="845.15" cy="676.85" r="1.0" fill="#ccc" stroke="#333" stroke-width="0.6"/>
<text class="lg" x="853.55" y="678.75">STR</text>
</svg>
<p id="foot">PASEX – AGESMTH.xls</p>
</body>
</html>
